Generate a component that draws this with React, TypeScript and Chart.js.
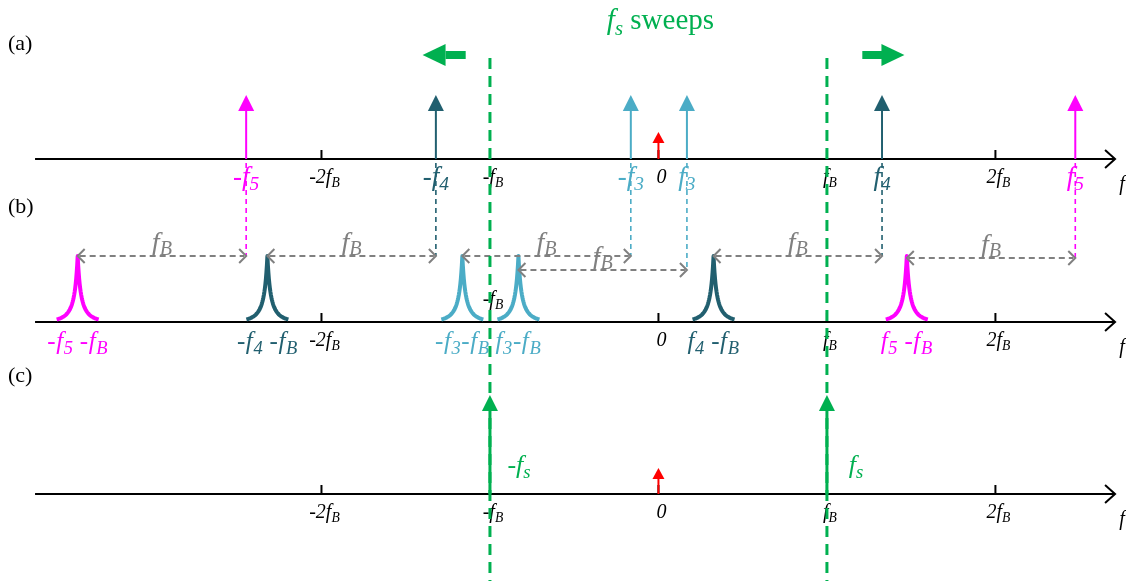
import React, { useEffect, useRef } from 'react';
import { Chart, registerables } from 'chart.js';

Chart.register(...registerables);

// ---------- data (frequencies in units of fB, amplitudes in arbitrary height units) ----------
const viewRange = [-3.908, 2.775];
const axisExtent = [-3.70, 2.71];
const yRange = [0, 58.1];
const panelLabels = ['(a)', '(b)', '(c)'];
const panelBase = [42.2, 25.9, 8.7];
const tickValues = [-2, -1, 0, 1, 2];
const tickLabels = ['-2f_B', '-f_B', '0', 'f_B', '2f_B'];
const tickAboveInB = [false, true, false, false, false];
const toneFreqs = [-2.447, -1.321, -0.164, 0.169, 1.327, 2.474];
const toneNames = ['-f_5', '-f_4', '-f_3', 'f_3', 'f_4', 'f_5'];
const toneColors = ['#FF00FF', '#215F6F', '#4BACC6', '#4BACC6', '#215F6F', '#FF00FF'];
const toneAmp = 6.4;
const dcAmp = [2.7, 0, 2.6];
const peakNames = ['-f_5 -f_B', '-f_4 -f_B', '-f_3-f_B', 'f_3-f_B', 'f_4 -f_B', 'f_5 -f_B'];
const peakAmp = 6.6;
const linkLevels = [6.6, 6.6, 6.6, 5.2, 6.6, 6.4];
const samplingFreqs = [-1, 1];
const samplingNames = ['-f_s', 'f_s'];
const samplingAmp = 9.9;
const sweepFrom = [-1.15, 1.21];
const sweepTo = [-1.40, 1.46];
const sweepLevel = 52.6;
const guideTop = 52.3;
const titleText = 'f_s~ sweeps';
const titleLevel = 55.6;

const GREEN = '#00B050';
const GRAY = '#808080';
const FONT = '"Liberation Serif", "Times New Roman", serif';

type Seg = { t: string; sub: boolean; italic: boolean };

function parseRich(s: string): Seg[] {
  const segs: Seg[] = [];
  let italic = true;
  for (let i = 0; i < s.length; i++) {
    const c = s[i];
    if (c === '~') { italic = !italic; continue; }
    if (c === '_') { segs.push({ t: s[i + 1], sub: true, italic }); i++; continue; }
    segs.push({ t: c, sub: false, italic });
  }
  return segs;
}

function drawRich(ctx: CanvasRenderingContext2D, s: string, x: number, y: number, size: number, color: string, align: 'center' | 'left' = 'center', subRatio = 0.72, subDrop = 0.22, gap = 0) {
  const segs = parseRich(s);
  const subSize = size * subRatio;
  const fontOf = (g: Seg) => `${g.italic ? 'italic ' : ''}${g.sub ? subSize : size}px ${FONT}`;
  ctx.save();
  ctx.textBaseline = 'alphabetic';
  ctx.textAlign = 'left';
  const widths = segs.map((g) => { ctx.font = fontOf(g); return ctx.measureText(g.t).width + (g.t === ' ' ? 0 : gap); });
  const total = widths.reduce((a, b) => a + b, 0);
  let cx = align === 'center' ? x - total / 2 : x;
  ctx.fillStyle = color;
  segs.forEach((g, i) => {
    ctx.font = fontOf(g);
    ctx.fillText(g.t, cx, g.sub ? y + size * subDrop : y);
    cx += widths[i];
  });
  ctx.restore();
}

function line(ctx: CanvasRenderingContext2D, x1: number, y1: number, x2: number, y2: number, color: string, w: number, dash: number[] = []) {
  ctx.save();
  ctx.strokeStyle = color;
  ctx.lineWidth = w;
  ctx.setLineDash(dash);
  ctx.beginPath();
  ctx.moveTo(x1, y1);
  ctx.lineTo(x2, y2);
  ctx.stroke();
  ctx.restore();
}

function upArrow(ctx: CanvasRenderingContext2D, x: number, yBase: number, yTip: number, color: string, w: number, headH: number, headW: number) {
  line(ctx, x, yBase, x, yTip + headH - 1, color, w);
  ctx.save();
  ctx.fillStyle = color;
  ctx.beginPath();
  ctx.moveTo(x, yTip);
  ctx.lineTo(x - headW, yTip + headH);
  ctx.lineTo(x + headW, yTip + headH);
  ctx.closePath();
  ctx.fill();
  ctx.restore();
}

function chevron(ctx: CanvasRenderingContext2D, x: number, y: number, dir: number, color: string, len: number, half: number, w: number) {
  ctx.save();
  ctx.strokeStyle = color;
  ctx.lineWidth = w;
  ctx.setLineDash([]);
  ctx.beginPath();
  ctx.moveTo(x - dir * len, y - half);
  ctx.lineTo(x, y);
  ctx.lineTo(x - dir * len, y + half);
  ctx.stroke();
  ctx.restore();
}

const diagramPlugin = {
  id: 'diagram',
  afterDraw(chart: any) {
    const ctx: CanvasRenderingContext2D = chart.ctx;
    const xs = chart.scales.x;
    const ys = chart.scales.y;
    const X = (v: number) => xs.getPixelForValue(v);
    const Y = (v: number) => ys.getPixelForValue(v);

    ctx.save();
    ctx.fillStyle = '#ffffff';
    ctx.fillRect(0, 0, chart.width, chart.height);
    ctx.restore();

    // title
    drawRich(ctx, titleText, X(0) + 2, Y(titleLevel) + 4, 29, GREEN, 'center', 0.72, 0.2);

    // sweep block arrows
    sweepFrom.forEach((from, i) => {
      const x0 = X(from);
      const tip = X(sweepTo[i]);
      const yc = Y(sweepLevel);
      const dir = Math.sign(tip - x0);
      const headLen = 23;
      const xh = tip - dir * headLen;
      ctx.save();
      ctx.fillStyle = GREEN;
      ctx.fillRect(Math.min(x0, xh), yc - 4, Math.abs(xh - x0) + 1, 8);
      ctx.beginPath();
      ctx.moveTo(tip, yc);
      ctx.lineTo(xh, yc - 11);
      ctx.lineTo(xh, yc + 11);
      ctx.closePath();
      ctx.fill();
      ctx.restore();
    });

    // panels: axes, ticks, labels
    panelBase.forEach((b, p) => {
      const yb = Y(b);
      const x0 = X(axisExtent[0]);
      const x1 = X(axisExtent[1]);
      line(ctx, x0, yb, x1, yb, '#000', 2);
      chevron(ctx, x1, yb, 1, '#000', 10, 9, 2);
      ctx.save();
      ctx.font = `22px ${FONT}`;
      ctx.fillStyle = '#000';
      ctx.textAlign = 'left';
      ctx.textBaseline = 'middle';
      ctx.fillText(panelLabels[p], 8, yb - (p === 2 ? 118 : 115));
      ctx.restore();
      drawRich(ctx, 'f', X(axisExtent[1]) + 7, yb + 31, 20, '#000');
      tickValues.forEach((t, i) => {
        const xt = X(t);
        line(ctx, xt, yb, xt, yb - 9, '#000', 2);
        const above = p === 1 && tickAboveInB[i];
        drawRich(ctx, tickLabels[i], xt + 3, above ? yb - 17 : yb + 24, 20, '#000', 'center', 0.68, 0.2);
      });
    });

    const ya = Y(panelBase[0]);
    const yb = Y(panelBase[1]);
    const yc = Y(panelBase[2]);

    // (a) tones
    toneFreqs.forEach((f, i) => {
      const x = X(f);
      upArrow(ctx, x, ya, Y(panelBase[0] + toneAmp), toneColors[i], 2, 16, 8);
      drawRich(ctx, toneNames[i], x, ya + 26, 27, toneColors[i], 'center', 0.72, 0.2);
    });
    // dc components
    upArrow(ctx, X(0), ya, Y(panelBase[0] + dcAmp[0]), '#FF0000', 2, 11, 6);
    upArrow(ctx, X(0), yc, Y(panelBase[2] + dcAmp[2]), '#FF0000', 2, 11, 6);

    // (b) shifted peaks
    toneFreqs.forEach((f, i) => {
      const fp = f - 1;
      const cx = X(fp);
      const hPx = Y(panelBase[1]) - Y(panelBase[1] + peakAmp);
      const g = 6.5;
      const half = 21;
      const shape = (d: number) => 1 / Math.pow(1 + Math.abs(d) / g, 2);
      const s0 = shape(half);
      ctx.save();
      ctx.strokeStyle = toneColors[i];
      ctx.lineWidth = 4;
      ctx.lineJoin = 'round';
      ctx.beginPath();
      for (let dx = -half; dx <= half; dx += 0.5) {
        const v = (shape(dx) - s0) / (1 - s0);
        const yy = yb - 2.5 - (hPx - 2.5) * v;
        if (dx === -half) ctx.moveTo(cx + dx, yy); else ctx.lineTo(cx + dx, yy);
      }
      ctx.stroke();
      ctx.restore();
      drawRich(ctx, peakNames[i], cx, yb + 27, 25, toneColors[i], 'center', 0.74, 0.2, 0.6);
    });

    // connectors + fB double arrows
    toneFreqs.forEach((f, i) => {
      const xt = X(f);
      const xp = X(f - 1);
      const yl = Y(panelBase[1] + linkLevels[i]);
      line(ctx, xt, ya + 4, xt, yl, toneColors[i], 1.6, [5, 4]);
      line(ctx, xp + 2, yl, xt - 2, yl, GRAY, 2, [6, 4]);
      chevron(ctx, xp, yl, -1, GRAY, 7, 7, 2);
      chevron(ctx, xt, yl, 1, GRAY, 7, 7, 2);
      drawRich(ctx, 'f_B', (xt + xp) / 2, yl - 5, 28, GRAY, 'center', 0.72, 0.16);
    });

    // (c) sampling tones
    samplingFreqs.forEach((f, i) => {
      const x = X(f);
      upArrow(ctx, x, yc, Y(panelBase[2] + samplingAmp), GREEN, 3, 16, 8);
      drawRich(ctx, samplingNames[i], x + 29, yc - 21, 26, GREEN, 'center', 0.72, 0.2);
    });

    // green dashed guides
    samplingFreqs.forEach((f) => {
      const x = X(f);
      line(ctx, x, Y(guideTop), x, Y(yRange[0]), GREEN, 3, [11, 7]);
    });
  },
};

export default function App() {
  const ref = useRef<HTMLCanvasElement | null>(null);
  useEffect(() => {
    document.body.style.margin = '0';
    const canvas = ref.current;
    if (!canvas) return;
    const chart = new Chart(canvas, {
      type: 'scatter',
      data: { datasets: [] },
      options: {
        responsive: false,
        animation: false,
        devicePixelRatio: 1,
        layout: { padding: 0 },
        plugins: { legend: { display: false }, tooltip: { enabled: false } },
        scales: {
          x: { type: 'linear', min: viewRange[0], max: viewRange[1], display: false },
          y: { type: 'linear', min: yRange[0], max: yRange[1], display: false },
        },
      },
      plugins: [diagramPlugin],
    } as any);
    return () => chart.destroy();
  }, []);
  return (
    <div style={{ width: 1126, height: 581, background: '#fff' }}>
      <canvas ref={ref} width={1126} height={581} style={{ display: 'block', width: 1126, height: 581 }} />
    </div>
  );
}
